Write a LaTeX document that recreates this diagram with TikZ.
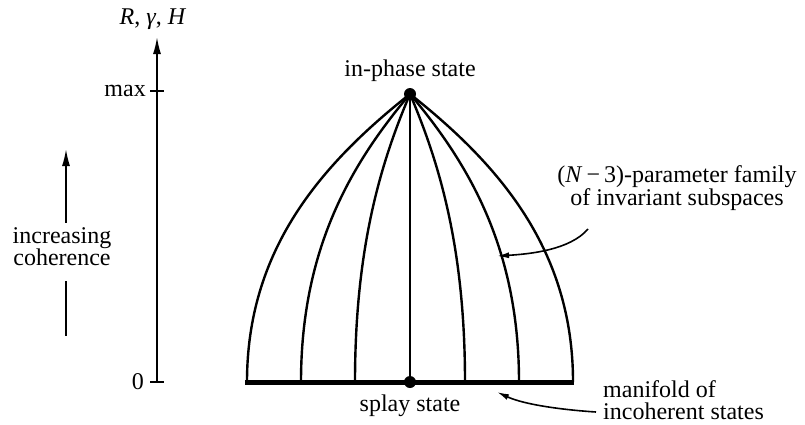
\documentclass[tikz,border=0pt]{standalone}
\usepackage{fontspec}
\setmainfont{Liberation Serif}
\usetikzlibrary{arrows.meta,positioning}

\begin{document}
\begin{tikzpicture}[x=1pt,y=-1pt,>={Latex[length=17pt,width=8pt]},
  every node/.style={font=\fontsize{24}{22}\selectfont,inner sep=0pt},
  dot/.style={circle,fill,minimum size=12pt,inner sep=0pt},
  leaf/.style={line width=2.4pt},
  tick/.style={line width=1.5pt},
  pointer/.style={line width=1.6pt,-{Latex[length=12pt,width=6pt]}}]
\useasboundingbox (0,0) rectangle (805,424);
% axis
\coordinate (axbot) at (157,382);
\coordinate (axtop) at (157,37);
\coordinate (tmax) at (157,91);
\draw[line width=1.6pt,->] (axbot) -- (axtop);
\node[above=7pt of axtop,xshift=-4pt] (axlab) {\textit{R}, \textit{γ}, \textit{H}};
\draw[tick] (tmax) +(-7,0) -- +(7,0);
\draw[tick] (axbot) +(-7,0) -- +(7,0);
\node[left=11pt of tmax] (maxlab) {max};
\node[left=13pt of axbot] (zerolab) {0};
% increasing coherence
\node[align=center] (coh) at (62,247) {increasing\\coherence};
\coordinate (cohtop) at (66,149);
\coordinate (cohbot) at (66,336);
\draw[line width=1.6pt,->,shorten <=5pt] (cohtop |- coh.north) -- (cohtop);
\draw[line width=1.6pt,shorten <=15pt] (cohbot |- coh.south) -- (cohbot);
% dome
\node[dot] (inphase) at (410,94) {};
\node[dot] (splay) at (410,382) {};
\coordinate (manl) at (245,382);
\coordinate (manr) at (574,382);
\foreach \d in {-163,-109,-55,55,109,163}
  \draw[leaf] (inphase.center) .. controls ({410+0.55*\d},165) and ({410+\d},250) .. ({410+\d},382);
\draw[leaf] (inphase) -- (splay);
\draw[line width=5pt] (manl) -- (manr);
\node[above=6pt of inphase] (inphaselab) {in-phase state};
\node[below=6pt of splay] (splaylab) {splay state};
% labels on the right
\node[align=center] (famlab) at (677,188) {(\textit{N}\,−\,3)-parameter family\\of invariant subspaces};
\coordinate (famtail) at (588,229);
\coordinate (famtip) at (497,256);
\draw[pointer] (famtail) .. controls (570,250) and (530,254) .. (famtip);
\node[align=left,anchor=west] (manlab) at (603,400) {manifold of\\incoherent states};
\coordinate (mantail) at (596,412);
\coordinate (mantip) at (497,392);
\draw[pointer] (mantail) .. controls (565,410) and (525,405) .. (mantip);
\end{tikzpicture}
\end{document}
